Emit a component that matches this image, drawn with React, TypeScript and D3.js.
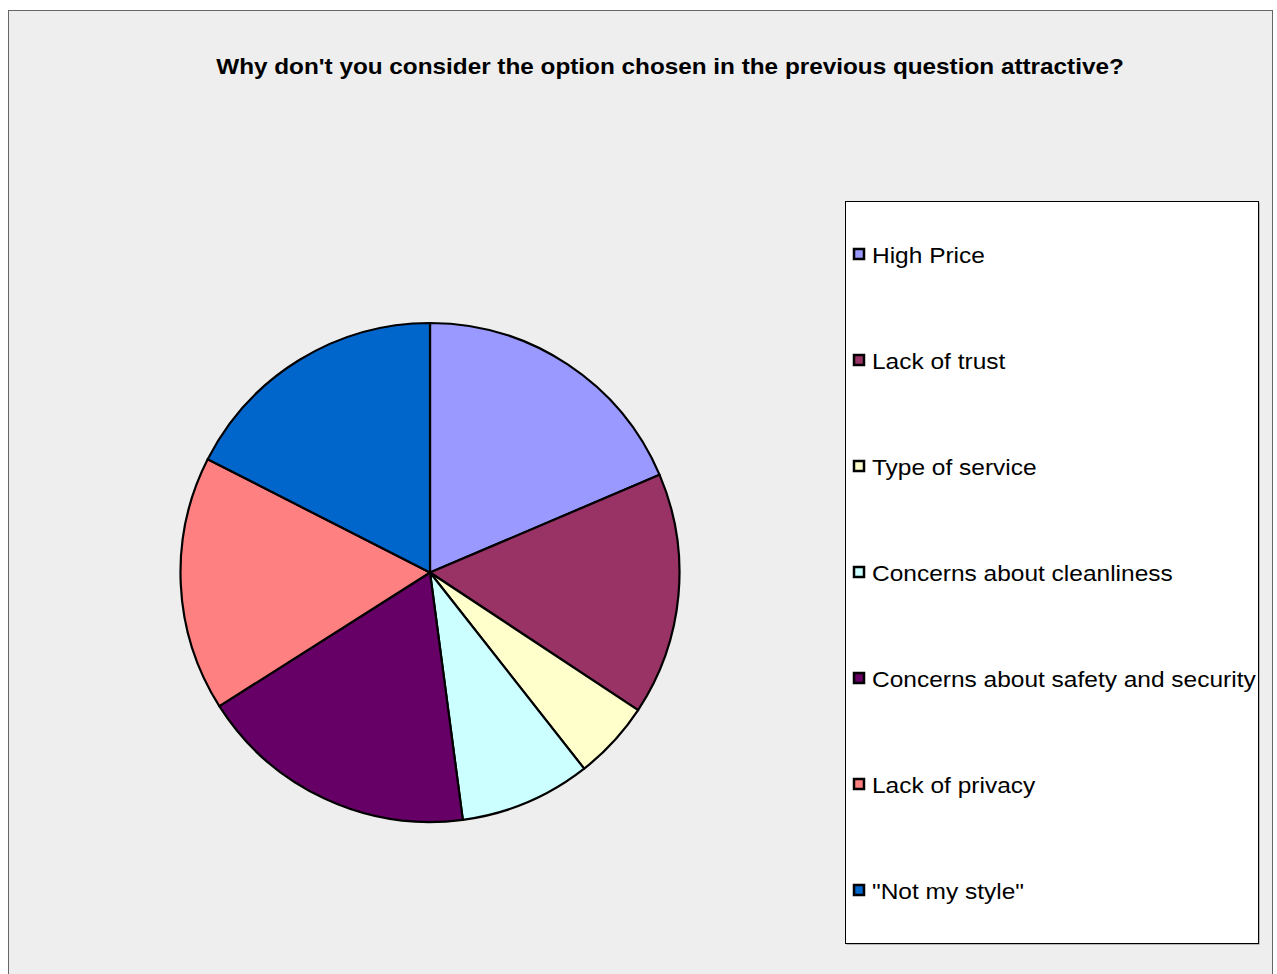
import React from "react";
import * as d3 from "d3";

const categories = [
  "High Price",
  "Lack of trust",
  "Type of service",
  "Concerns about cleanliness",
  "Concerns about safety and security",
  "Lack of privacy",
  "\"Not my style\"",
];
const values = [18.6, 15.7, 5.1, 8.5, 18.1, 16.5, 17.5];
const colors = ["#9999FF", "#993366", "#FFFFCC", "#CCFFFF", "#660066", "#FF8080", "#0066CC"];
const title = "Why don't you consider the option chosen in the previous question attractive?";

export default function App() {
  const W = 1277;
  const H = 974;
  const cx = 430;
  const cy = 572.5;
  const r = 249.5;
  const pie = d3.pie<number>().sort(null).value((d) => d);
  const arcs = pie(values);
  const arc = d3.arc<d3.PieArcDatum<number>>().innerRadius(0).outerRadius(r);
  const legendY = d3.scalePoint<number>().domain(d3.range(categories.length)).range([254, 890]);
  const font = "'Liberation Sans', Arial, sans-serif";
  return (
    <svg width={W} height={H} style={{ position: "absolute", left: 0, top: 0, display: "block" }}>
      <rect x={8.5} y={10.5} width={1264} height={980} fill="#EEEEEE" stroke="#666666" strokeWidth={1} />
      <text
        transform="translate(670,73.5) scale(1.105,1)"
        textAnchor="middle"
        fontFamily={font}
        fontWeight="bold"
        fontSize={22}
        fill="#000"
      >
        {title}
      </text>
      <g transform={`translate(${cx},${cy})`}>
        {arcs.map((a, i) => (
          <path key={i} d={arc(a) || ""} fill={colors[i]} stroke="#000" strokeWidth={2.2} strokeLinejoin="round" />
        ))}
      </g>
      <rect x={846.5} y={202.5} width={413} height={742} fill="#808080" />
      <rect x={845.5} y={201.5} width={413} height={742} fill="#FFFFFF" stroke="#000" strokeWidth={1} />
      {categories.map((c, i) => {
        const y = legendY(i) as number;
        return (
          <g key={i}>
            <rect x={854} y={y - 5} width={10} height={10} fill={colors[i]} stroke="#000" strokeWidth={2.5} />
            <text transform={`translate(872,${y + 8.5}) scale(1.15,1)`} fontFamily={font} fontSize={21.3} fill="#000">
              {c}
            </text>
          </g>
        );
      })}
    </svg>
  );
}
